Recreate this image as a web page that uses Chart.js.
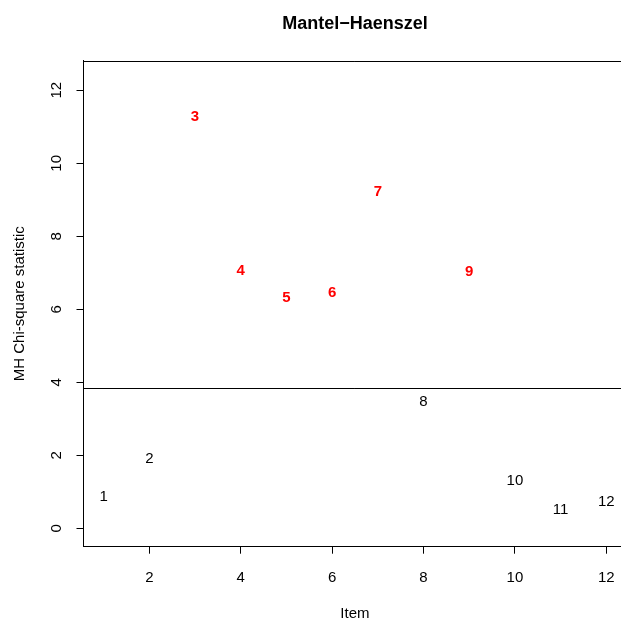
<!DOCTYPE html>
<html>
<head>
<meta charset="utf-8">
<script src="https://cdn.jsdelivr.net/npm/chart.js@4/dist/chart.umd.min.js"></script>
<style>
  html, body { margin: 0; padding: 0; background: #fff; }
  #wrap { width: 621px; height: 619px; overflow: hidden; position: relative; }
</style>
</head>
<body>
<div id="wrap"><canvas id="mh" width="640" height="619"></canvas></div>
<script>
// Mantel-Haenszel DIF plot — item statistics
const items = [1, 2, 3, 4, 5, 6, 7, 8, 9, 10, 11, 12];
const mhStat = [0.91, 1.96, 11.30, 7.10, 6.35, 6.50, 9.25, 3.52, 7.08, 1.35, 0.56, 0.78];
const threshold = 3.84;
const xTickValues = [2, 4, 6, 8, 10, 12];
const yTickValues = [0, 2, 4, 6, 8, 10, 12];

const FONT = '"Liberation Sans", Arial, Helvetica, sans-serif';
const DY = 1.5; // canvas 'middle' sits a bit high vs R text

// labels, y ticks, box top, threshold line, titles
const rPlot = {
  id: 'rPlot',
  afterDraw(chart) {
    const { ctx, chartArea: a, scales: { x, y } } = chart;
    ctx.save();

    // top border of the box
    ctx.strokeStyle = '#000';
    ctx.lineWidth = 1;
    ctx.beginPath();
    ctx.moveTo(a.left, Math.round(a.top) + 0.5);
    ctx.lineTo(a.right, Math.round(a.top) + 0.5);
    ctx.stroke();

    // critical value line
    const ty = Math.round(y.getPixelForValue(threshold)) + 0.5;
    ctx.beginPath();
    ctx.moveTo(a.left, ty);
    ctx.lineTo(a.right, ty);
    ctx.stroke();

    // item labels at the points
    ctx.textAlign = 'center';
    ctx.textBaseline = 'middle';
    const meta = chart.getDatasetMeta(0);
    meta.data.forEach((pt, i) => {
      const dif = mhStat[i] > threshold;
      ctx.font = (dif ? 'bold ' : '') + '15px ' + FONT;
      ctx.fillStyle = dif ? '#f00' : '#000';
      ctx.fillText(String(items[i]), pt.x, pt.y + DY);
    });

    // x tick labels
    ctx.fillStyle = '#000';
    ctx.font = '15px ' + FONT;
    xTickValues.forEach(v => ctx.fillText(String(v), x.getPixelForValue(v), 576 + DY));

    // y tick labels (rotated)
    yTickValues.forEach(v => {
      ctx.save();
      ctx.translate(55 + DY, y.getPixelForValue(v));
      ctx.rotate(-Math.PI / 2);
      ctx.fillText(String(v), 0, 0);
      ctx.restore();
    });

    // axis titles
    const cx = (a.left + a.right) / 2;
    ctx.fillText('Item', cx, 612 + DY);
    ctx.save();
    ctx.translate(18 + DY, (a.top + a.bottom) / 2);
    ctx.rotate(-Math.PI / 2);
    ctx.fillText('MH Chi-square statistic', 0, 0);
    ctx.restore();

    // main title
    ctx.font = 'bold 18px ' + FONT;
    ctx.fillText('Mantel\u2212Haenszel', cx, 23 + DY);

    ctx.restore();
  }
};

new Chart(document.getElementById('mh'), {
  type: 'scatter',
  data: {
    datasets: [{
      data: items.map((it, i) => ({ x: it, y: mhStat[i] })),
      pointRadius: 0,
      pointHoverRadius: 0
    }]
  },
  options: {
    responsive: false,
    animation: false,
    events: [],
    layout: { padding: { top: 60.7, right: 13.6, left: 0, bottom: 0 } },
    plugins: { legend: { display: false }, tooltip: { enabled: false } },
    scales: {
      x: {
        type: 'linear',
        min: 0.56, max: 12.44,
        afterBuildTicks: s => { s.ticks = xTickValues.map(v => ({ value: v })); },
        afterFit: s => { s.height = 72.3; },
        ticks: { display: false },
        grid: { drawOnChartArea: false, drawTicks: true, tickLength: 7, color: '#000', lineWidth: 1 },
        border: { display: true, color: '#000', width: 1 }
      },
      y: {
        type: 'linear',
        min: -0.50, max: 12.81,
        afterBuildTicks: s => { s.ticks = yTickValues.map(v => ({ value: v })); },
        afterFit: s => { s.width = 83.5; },
        ticks: { display: false },
        grid: { drawOnChartArea: false, drawTicks: true, tickLength: 7, color: '#000', lineWidth: 1 },
        border: { display: true, color: '#000', width: 1 }
      }
    }
  },
  plugins: [rPlot]
});
</script>
</body>
</html>
